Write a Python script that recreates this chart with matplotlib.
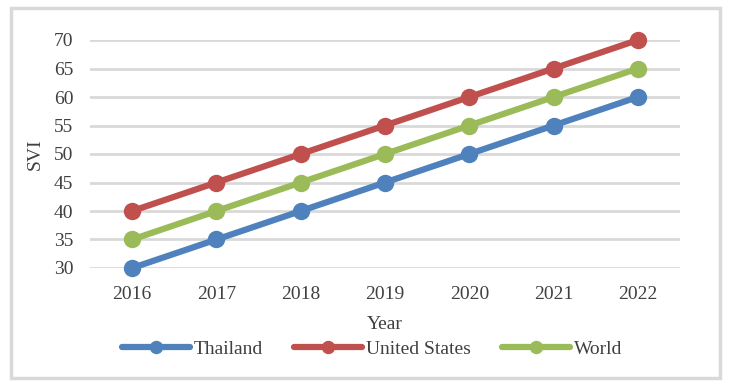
import matplotlib
matplotlib.use("Agg")
import matplotlib.pyplot as plt
from matplotlib.patches import Rectangle

years = ["2016", "2017", "2018", "2019", "2020", "2021", "2022"]
thailand = [30, 35, 40, 45, 50, 55, 60]
united_states = [40, 45, 50, 55, 60, 65, 70]
world = [35, 40, 45, 50, 55, 60, 65]

plt.rcParams['font.family'] = ['Liberation Serif', 'DejaVu Serif']
txt = '#404040'

fig = plt.figure(figsize=(7.32, 3.83), dpi=100)
ax = fig.add_axes([90/732, 1-268/383, (680-90)/732, (268-40)/383])

x = list(range(len(years)))
series = [("Thailand", thailand, '#4f81bd'),
          ("United States", united_states, '#c0504d'),
          ("World", world, '#9bbb59')]
for name, vals, c in series:
    ax.plot(x, vals, color=c, lw=4.5, marker='o', markersize=11.5, label=name,
            solid_capstyle='round', zorder=3, clip_on=False)

ax.set_xlim(-0.5, len(years) - 0.5)
ax.set_ylim(30, 70)
ax.set_yticks(range(30, 71, 5))
ax.set_xticks(x)
ax.set_xticklabels(years)
ax.grid(axis='y', color='#d9d9d9', lw=2, zorder=0)
ax.set_axisbelow(True)
for s in ax.spines.values():
    s.set_visible(False)
ax.tick_params(length=0, labelsize=14, colors=txt)
ax.tick_params(axis='x', pad=13)
ax.tick_params(axis='y', pad=12)
ax.set_xlabel("Year", fontsize=14, color=txt, labelpad=9)
ax.set_ylabel("SVI", fontsize=14, color=txt, labelpad=7)

leg = fig.legend(loc='center', bbox_to_anchor=(0.508, 1-349/383), ncol=3, frameon=False,
                 fontsize=14, handlelength=3.5, columnspacing=1.6, handletextpad=0.2,
                 markerscale=0.75, labelcolor=txt)

fig.patches.append(Rectangle((11/732, 1-378/383), (720-11)/732, (378-8)/383,
                             transform=fig.transFigure, fill=False,
                             edgecolor='#d9d9d9', lw=2.5))

fig.savefig("out.png", dpi=100)
